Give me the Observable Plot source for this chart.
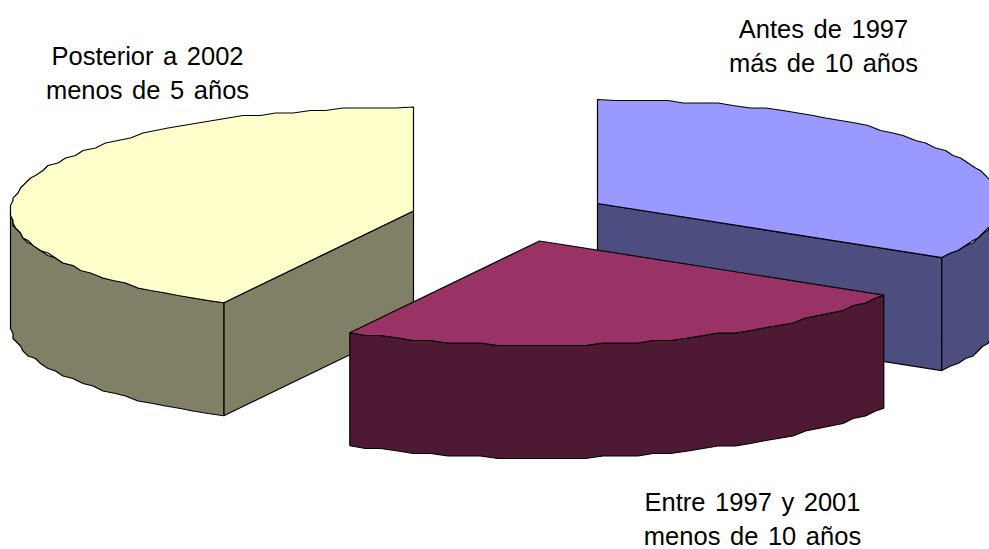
<!DOCTYPE html>
<html lang="es">
<head>
<meta charset="utf-8">
<title>Antigüedad</title>
<script src="https://cdn.jsdelivr.net/npm/d3@7"></script>
<script src="https://cdn.jsdelivr.net/npm/@observablehq/plot@0.6"></script>
<style>
  html, body { margin: 0; padding: 0; background: #fff; overflow: hidden; }
  svg { display: block; }
  svg text { word-spacing: 2.5px; }
</style>
</head>
<body>
<div id="chart"></div>
<script>
// Share of each period, clockwise from twelve o'clock (percent)
const periods = ["Antes de 1997", "Entre 1997 y 2001", "Posterior a 2002"];
const shares = [33.7, 24.1, 42.2];
const labels = [
  "Antes de 1997\nmás de 10 años",
  "Entre 1997 y 2001\nmenos de 10 años",
  "Posterior a 2002\nmenos de 5 años"
];
const topColors = ["#9999FF", "#993366", "#FFFFCC"];
const wallColors = ["#4D4D80", "#4D1933", "#808066"];

// Pie geometry in the chart's 989×549 coordinate space
const W = 989, H = 549;
const explodedCenters = [[597, 203], [539, 240.5], [413, 210.5]];
const rx = 403, ry = 104, depth = 113;
const labelAnchors = [[823, 43.5], [752, 517], [147, 70.5]];
const drawOrder = [2, 0, 1];

// Arcs are coarse polylines snapped to a low-resolution grid, which gives the
// rim its slightly ragged outline.
const arcStep = 2.5, grid = 2.5;
const snap = v => Math.round(v / grid) * grid;
const rad = d => d * Math.PI / 180;

function rim(c, a, b) {
  const pts = [];
  const n = Math.max(1, Math.round((b - a) / arcStep));
  for (let i = 0; i <= n; i++) {
    const t = rad(a + (b - a) * i / n);
    const x = c[0] + rx * Math.sin(t), y = c[1] - ry * Math.cos(t);
    pts.push(i === 0 || i === n ? [x, y] : [snap(x), snap(y)]);
  }
  return pts;
}

function faces() {
  const out = [];
  const total = d3.sum(shares);
  let acc = 0;
  const slices = shares.map((s, i) => {
    const a = acc / total * 360;
    acc += s;
    return {i, a, b: acc / total * 360, c: explodedCenters[i]};
  });
  for (const i of drawOrder) {
    const {a, b, c} = slices[i];
    const apexLow = [c[0], c[1] + depth];
    const radial = t => {
      const [edge] = rim(c, t, t);
      return [c, edge, [edge[0], edge[1] + depth], apexLow, c];
    };
    // Radial wall whose outward side faces the viewer
    if (Math.sin(rad(a)) < -1e-6) out.push({pts: radial(a), fill: wallColors[i]});
    if (Math.sin(rad(b)) > 1e-6) out.push({pts: radial(b), fill: wallColors[i]});
    // Curved outer wall: only the front half of the rim is visible
    const lo = Math.max(a, 90), hi = Math.min(b, 270);
    if (hi > lo) {
      const upper = rim(c, lo, hi);
      const lower = upper.map(([x, y]) => [x, y + depth]).reverse();
      out.push({pts: [...upper, ...lower, upper[0]], fill: wallColors[i]});
    }
    // Top surface
    out.push({pts: [c, ...rim(c, a, b), c], fill: topColors[i]});
  }
  return out;
}

const marks = faces().map(f =>
  Plot.line(f.pts, {x: d => d[0], y: d => d[1], fill: f.fill, stroke: "#000", strokeWidth: 1.2, strokeOpacity: 1, curve: "linear", strokeLinejoin: "miter"})
);
marks.push(Plot.text(labels, {
  x: (d, i) => labelAnchors[i][0],
  y: (d, i) => labelAnchors[i][1],
  text: d => d,
  fontFamily: "Liberation Sans",
  fontSize: 25.5,
  lineHeight: 1.33,
  fill: "#000",
  textAnchor: "middle"
}));

document.getElementById("chart").append(Plot.plot({
  width: W, height: H,
  margin: 0,
  x: {domain: [0, W], range: [0, W], axis: null},
  y: {domain: [0, H], range: [0, H], axis: null},
  style: {background: "#fff"},
  marks
}));
</script>
</body>
</html>
